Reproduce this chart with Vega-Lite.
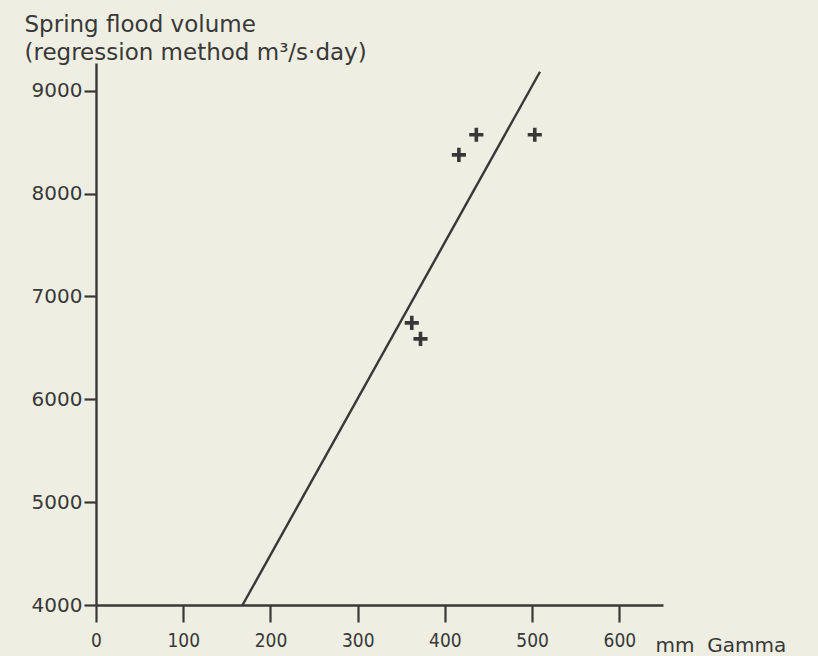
{
  "$schema": "https://vega.github.io/schema/vega-lite/v6.json",
  "width": 567,
  "height": 542,
  "autosize": "none",
  "padding": {"left": 96, "top": 63, "right": 155, "bottom": 51},
  "background": "#eeefe2",
  "config": {
    "view": {"stroke": null},
    "axis": {"grid": false, "domainColor": "#383838", "tickColor": "#383838", "labelColor": "#383838", "titleColor": "#383838", "labelFont": "DejaVu Sans", "titleFont": "DejaVu Sans", "titleFontWeight": "normal", "domainWidth": 2.4, "tickWidth": 2.2}
  },
  "datasets": {
    "obs": [
      {"gamma": 362, "volume": 6743},
      {"gamma": 372, "volume": 6588},
      {"gamma": 416, "volume": 8377},
      {"gamma": 436, "volume": 8572},
      {"gamma": 503, "volume": 8572}
    ],
    "fit": [
      {"gamma": 168, "volume": 4000},
      {"gamma": 509, "volume": 9185}
    ]
  },
  "layer": [
    {
      "data": {"name": "fit"},
      "mark": {"type": "line", "color": "#383838", "strokeWidth": 2.4},
      "encoding": {
        "x": {"field": "gamma", "type": "quantitative", "scale": {"domain": [0, 650], "nice": false, "zero": false},
          "axis": {"values": [0, 100, 200, 300, 400, 500, 600], "tickSize": 17, "labelPadding": 9, "labelFont": "DejaVu Sans Condensed, DejaVu Sans", "labelFontSize": 19, "labelBaseline": "top", "labelFlush": false, "title": "mm\u00a0\u00a0Gamma", "titleFontSize": 20, "titleX": 559, "titleY": 40, "titleAlign": "left", "titleBaseline": "middle", "titleAnchor": null}},
        "y": {"field": "volume", "type": "quantitative", "scale": {"domain": [4000, 9270], "nice": false, "zero": false},
          "axis": {"values": [4000, 5000, 6000, 7000, 8000, 9000], "format": "d", "tickSize": 12, "labelPadding": 2, "labelFontSize": 20, "labelFlush": false, "title": ["Spring flood volume", "(regression method m³/s·day)"], "titleFontSize": 23, "titleAngle": 0, "titleX": -72, "titleY": -50, "titleAlign": "left", "titleBaseline": "top", "titleLineHeight": 28, "titleAnchor": null}}
      }
    },
    {
      "data": {"name": "obs"},
      "mark": {"type": "point", "shape": "M-1,0L1,0M0,-1L0,1", "filled": false, "color": "#383838", "strokeWidth": 3.6, "size": 200, "opacity": 1},
      "encoding": {
        "x": {"field": "gamma", "type": "quantitative"},
        "y": {"field": "volume", "type": "quantitative"}
      }
    }
  ]
}
